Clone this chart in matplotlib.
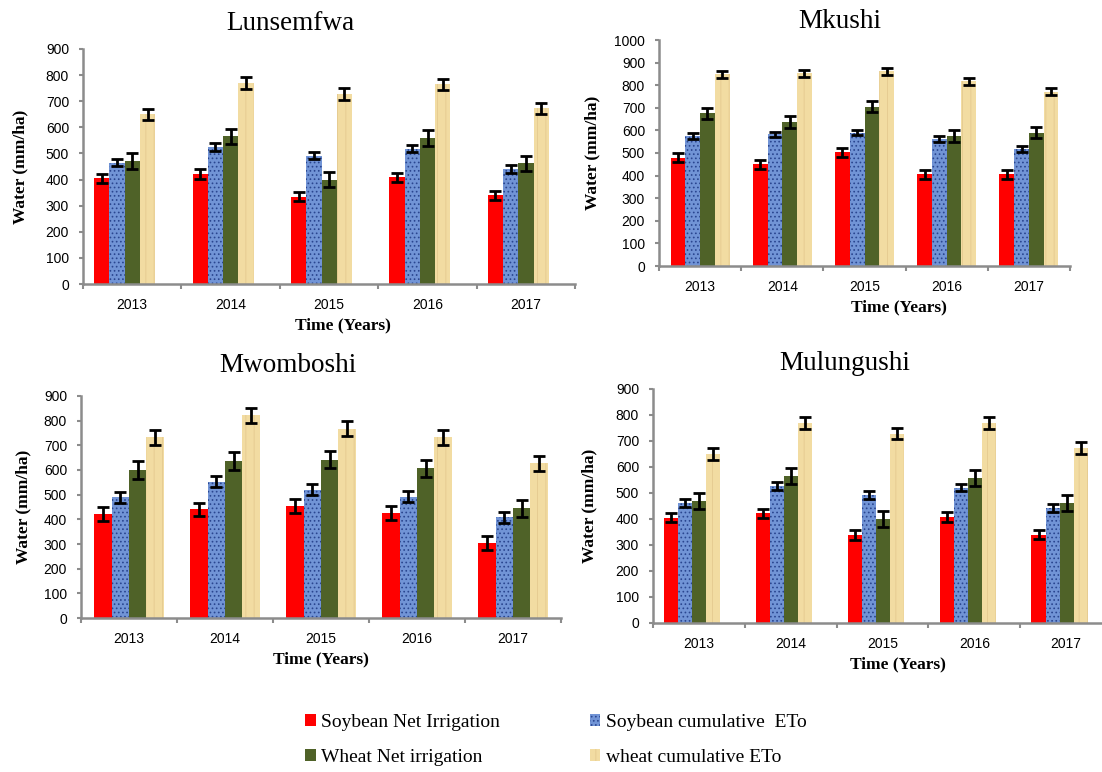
import matplotlib.pyplot as plt
from matplotlib.patches import Patch
import numpy as np

plt.rcParams['hatch.linewidth'] = 0.7

# Data (mm/ha)
years = ['2013', '2014', '2015', '2016', '2017']
series_names = ['Soybean Net Irrigation', 'Soybean cumulative  ETo',
                'Wheat Net irrigation', 'wheat cumulative ETo']

lunsemfwa_soy_net = [405, 422, 335, 408, 340]
lunsemfwa_soy_eto = [465, 525, 492, 518, 440]
lunsemfwa_wheat_net = [470, 565, 400, 558, 462]
lunsemfwa_wheat_eto = [650, 770, 728, 765, 673]

mkushi_soy_net = [478, 450, 503, 405, 405]
mkushi_soy_eto = [575, 582, 590, 562, 518]
mkushi_wheat_net = [675, 637, 705, 575, 590]
mkushi_wheat_eto = [848, 852, 862, 818, 772]

mwomboshi_soy_net = [422, 440, 455, 427, 303]
mwomboshi_soy_eto = [490, 553, 520, 492, 408]
mwomboshi_wheat_net = [600, 637, 642, 607, 445]
mwomboshi_wheat_eto = [732, 822, 768, 732, 627]

mulungushi_soy_net = [405, 422, 338, 408, 340]
mulungushi_soy_eto = [462, 527, 492, 520, 442]
mulungushi_wheat_net = [470, 565, 400, 558, 462]
mulungushi_wheat_eto = [650, 770, 728, 770, 673]

# error bar half-widths per series
lunsemfwa_err = [18, 14, 30, 22]
mkushi_err = [20, 12, 25, 15]
mwomboshi_err = [28, 22, 35, 30]
mulungushi_err = [18, 14, 30, 22]

colors = ['#ff0000', '#7194d6', '#4f6228', '#f2dca2']
hatches = [None, '....', None, '||']
hatch_colors = [None, '#2a4690', None, '#e6cc92']

FIG_W, FIG_H = 1102, 772


def draw_panel(fig, box, title, values, errs, ymax, width, shift,
               title_px, xlab_px, ylab_px):
    # box in pixels: left, right, top, bottom
    left, right, top, bottom = box
    ax = fig.add_axes([left / FIG_W, 1 - bottom / FIG_H,
                       (right - left) / FIG_W, (bottom - top) / FIG_H])
    n = len(years)

    def frac(px):
        return (px - left) / (right - left)

    x = np.arange(n)
    for i, (vals, err) in enumerate(zip(values, errs)):
        pos = x + shift + (i - 1.5) * width
        ax.bar(pos, vals, width, color=colors[i], hatch=hatches[i],
               edgecolor=hatch_colors[i] if hatch_colors[i] else colors[i],
               linewidth=0, zorder=2)
        ax.errorbar(pos, vals, yerr=err, fmt='none', ecolor='black',
                    elinewidth=2, capsize=4, capthick=2, zorder=3)

    ax.set_xlim(-0.5, n - 0.5)
    ax.set_ylim(0, ymax)
    ax.set_yticks(np.arange(0, ymax + 1, 100))
    # category boundaries as tick marks, year labels in the middle
    ax.set_xticks(np.arange(-0.5, n, 1.0))
    ax.set_xticklabels([])
    ax.set_xticks(x, minor=True)
    ax.set_xticklabels(years, minor=True, fontsize=10, family='Liberation Sans')
    ax.tick_params(axis='x', which='minor', length=0, pad=10)
    ax.tick_params(axis='x', which='major', direction='out', length=3.5,
                   width=1.5, color='#8c8c8c')
    ax.tick_params(axis='y', direction='out', length=3, width=1.5,
                   color='#8c8c8c', labelsize=10, pad=7)
    for lbl in ax.get_yticklabels():
        lbl.set_family('Liberation Sans')

    for side in ['top', 'right']:
        ax.spines[side].set_visible(False)
    for side in ['left', 'bottom']:
        ax.spines[side].set_color('#8c8c8c')
        ax.spines[side].set_linewidth(1.8)

    ax.set_xlabel('Time (Years)', family='Liberation Serif', weight='bold',
                  fontsize=12.5, labelpad=4, x=frac(xlab_px), ha='center')
    ax.set_ylabel('Water (mm/ha)', family='Liberation Serif', weight='bold',
                  fontsize=12.5)
    ax.yaxis.set_label_coords(frac(ylab_px), 0.5)
    fig.text(title_px[0] / FIG_W, 1 - title_px[1] / FIG_H, title,
             family='Liberation Serif', fontsize=19.5, ha='center', va='center')
    return ax


fig = plt.figure(figsize=(FIG_W / 100, FIG_H / 100), dpi=100)

draw_panel(fig, (83, 575, 49, 284), 'Lunsemfwa',
           [lunsemfwa_soy_net, lunsemfwa_soy_eto, lunsemfwa_wheat_net, lunsemfwa_wheat_eto],
           lunsemfwa_err, 900, 0.155, -0.076, (290, 24), 343, 28)

draw_panel(fig, (659, 1070, 40, 266), 'Mkushi',
           [mkushi_soy_net, mkushi_soy_eto, mkushi_wheat_net, mkushi_wheat_eto],
           mkushi_err, 1000, 0.179, 0.0, (840, 21), 899, 600)

draw_panel(fig, (81, 561, 396, 618), 'Mwomboshi',
           [mwomboshi_soy_net, mwomboshi_soy_eto, mwomboshi_wheat_net, mwomboshi_wheat_eto],
           mwomboshi_err, 900, 0.182, 0.0, (288, 366), 321, 31)

draw_panel(fig, (653, 1112, 389, 623), 'Mulungushi',
           [mulungushi_soy_net, mulungushi_soy_eto, mulungushi_wheat_net, mulungushi_wheat_eto],
           mulungushi_err, 900, 0.153, -0.071, (845, 364), 898, 597)

# Shared legend underneath
handles = [Patch(facecolor=colors[i], hatch=hatches[i],
                 edgecolor=hatch_colors[i] if hatch_colors[i] else colors[i],
                 linewidth=0) for i in range(4)]
order = [0, 2, 1, 3]
fig.legend([handles[i] for i in order], [series_names[i] for i in order],
           ncol=2, loc='center', bbox_to_anchor=(556 / FIG_W, 1 - 740 / FIG_H),
           frameon=False, prop={'family': 'Liberation Serif', 'size': 14},
           handlelength=0.55, handleheight=0.55, handletextpad=0.3,
           columnspacing=4.6, labelspacing=0.95)

fig.savefig('out.png', dpi=100)
